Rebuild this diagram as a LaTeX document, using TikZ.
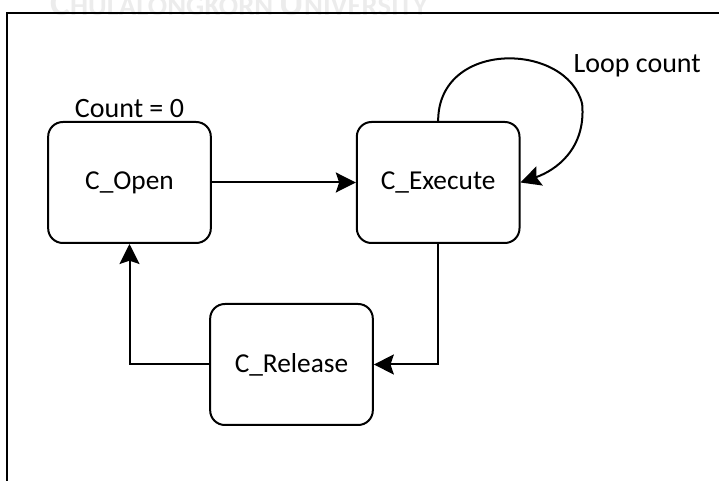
\documentclass[tikz,border=0pt]{standalone}
\usepackage{fontspec}
\setmainfont{Carlito}
\usetikzlibrary{shapes,arrows.meta,positioning}
\tikzstyle{block} = [rectangle, draw, line width=1.5pt, text centered,
    rounded corners=11pt, minimum width=122pt, minimum height=90.75pt,
    font=\fontsize{20.5}{24}\selectfont]
\tikzstyle{line} = [draw, line width=1.5pt,
    -{Stealth[length=15pt,width=15pt,inset=2.5pt]}]
\tikzstyle{tag} = [font=\fontsize{21}{24}\selectfont, inner sep=1pt]

\begin{document}
\begin{tikzpicture}[x=0.75pt, y=-0.75pt]
    \useasboundingbox (0,0) rectangle (719,481);
    % watermark and frame
    \node [anchor=base west, text=gray!15, font=\bfseries, inner sep=0pt] (mark) at (50,16)
        {\fontsize{28}{28}\selectfont C\fontsize{21.5}{21.5}\selectfont HULALONGKORN
         \fontsize{28}{28}\selectfont U\fontsize{21.5}{21.5}\selectfont NIVERSITY};
    \draw [line width=1.6pt] (7,481) -- (7,13) -- (719,13);
    % Place nodes
    \node [block] (open) at (129.5,182.5) {C\_Open};
    \node [block, right=108pt of open] (execute) {C\_Execute};
    \node [block] (release) at (291.5,364.5) {C\_Release};
    \node [tag, above=1pt of open] (count) {Count = 0};
    % Draw edges
    \path [line] (open) -- (execute);
    \path [line] (execute.south) |- (release.east);
    \path [line] (release.west) -| (open.south);
    \path [line] (execute.north) .. controls +(0,-82) and +(-15,-62) .. ++(144,-17)
        .. controls +(4,45) and +(35,-12) .. (execute.east);
    \node [tag, anchor=west, fill=white] (loop) at (572,66) {Loop count};
\end{tikzpicture}
\end{document}
